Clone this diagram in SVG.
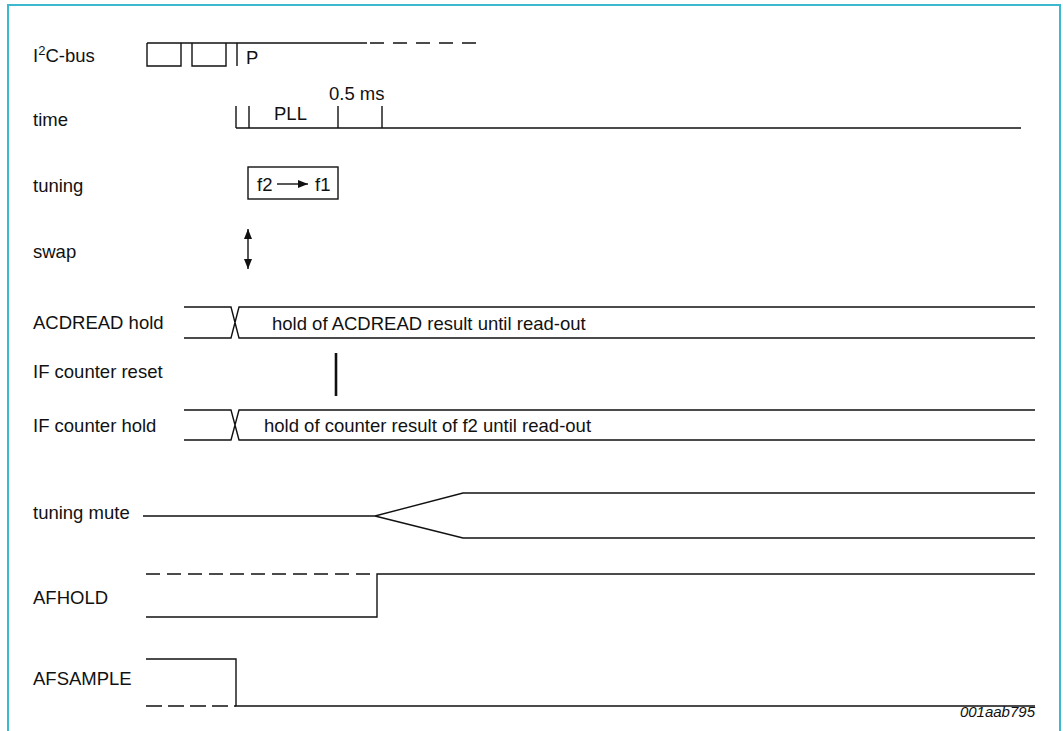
<svg xmlns="http://www.w3.org/2000/svg" width="1063" height="731" viewBox="0 0 1063 731">
<style>
text{font-family:"Liberation Sans",Arial,sans-serif;font-size:18.5px;fill:#111}
.s{fill:none;stroke:#111;stroke-width:1.4}
.d{fill:none;stroke:#111;stroke-width:1.4;stroke-dasharray:14 7}
.frame{fill:none;stroke:#3cb9cf;stroke-width:2}
</style>
<defs>
<marker id="ah" markerWidth="10" markerHeight="8" refX="10" refY="4" orient="auto" markerUnits="userSpaceOnUse">
<path d="M0,0 L10,4 L0,8 z" fill="#111"/>
</marker>
<marker id="ahs" markerWidth="10" markerHeight="8" refX="10" refY="4" orient="auto-start-reverse" markerUnits="userSpaceOnUse">
<path d="M0,0 L10,4 L0,8 z" fill="#111"/>
</marker>
</defs>
<rect width="1063" height="731" fill="#fff"/>
<path class="frame" d="M8,731 V5 H1060 V731"/>

<g id="i2c-bus">
<text x="33" y="62">I<tspan font-size="13" dy="-7">2</tspan><tspan dy="7">C-bus</tspan></text>
<path class="s" d="M147,43 H367 M147,43 V66 H181 V43 M192,43 V66 H226 V43 M237,43 V66"/>
<path class="s" d="M370,43 H476" stroke-dasharray="14 9"/>
<text x="246" y="64">P</text>
</g>

<g id="time">
<text x="33" y="126">time</text>
<path class="s" d="M236,128 H1021 M236,106 V128 M249,106 V128 M338,106 V128 M382,106 V128"/>
<text x="274" y="120">PLL</text>
<text x="329" y="100">0.5 ms</text>
</g>

<g id="tuning">
<text x="33" y="192">tuning</text>
<rect class="s" x="248" y="167" width="90" height="32"/>
<text x="257" y="191">f2</text>
<line class="s" x1="277" y1="184" x2="308" y2="184" marker-end="url(#ah)"/>
<text x="315" y="191">f1</text>
</g>

<g id="swap">
<text x="33" y="258">swap</text>
<line class="s" x1="248" y1="229" x2="248" y2="269" marker-start="url(#ahs)" marker-end="url(#ah)"/>
</g>

<g id="acdread-hold">
<text x="33" y="329">ACDREAD hold</text>
<path class="s" d="M184,307 H231 L239,338 H1035 M184,338 H231 L239,307 H1035"/>
<text x="272" y="330">hold of ACDREAD result until read-out</text>
</g>

<g id="if-counter-reset">
<text x="33" y="378">IF counter reset</text>
<line x1="336" y1="353" x2="336" y2="396" stroke="#111" stroke-width="2.6"/>
</g>

<g id="if-counter-hold">
<text x="33" y="432">IF counter hold</text>
<path class="s" d="M184,410 H231 L239,440 H1035 M184,440 H231 L239,410 H1035"/>
<text x="264" y="432">hold of counter result of f2 until read-out</text>
</g>

<g id="tuning-mute">
<text x="33" y="519">tuning mute</text>
<path class="s" d="M143,516 H375 L463,493 H1035 M375,516 L463,538 H1035"/>
</g>

<g id="afhold">
<text x="33" y="604">AFHOLD</text>
<path class="d" d="M146,574 H377"/>
<path class="s" d="M146,617 H377 V574 H1035"/>
</g>

<g id="afsample">
<text x="33" y="685">AFSAMPLE</text>
<path class="s" d="M146,659 H236 V706 H1035"/>
<path class="s" d="M146,706 H236" stroke-dasharray="16 6"/>
</g>

<text x="1035" y="717" text-anchor="end" font-style="italic" style="font-size:15px">001aab795</text>
</svg>
